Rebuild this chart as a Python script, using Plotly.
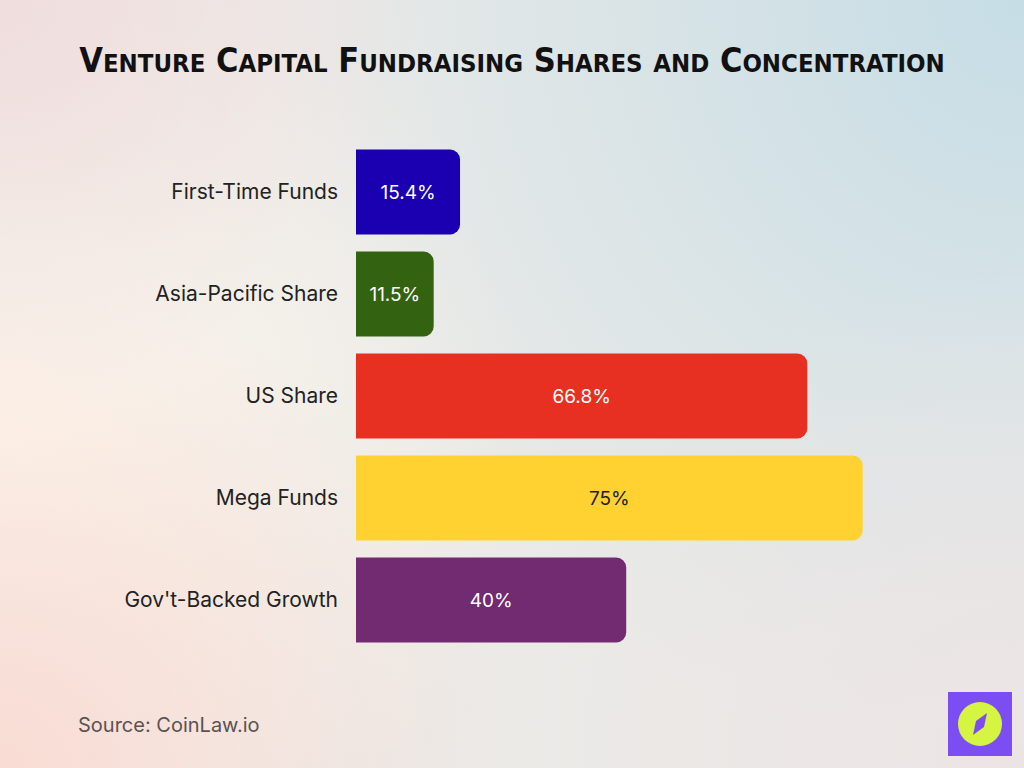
import base64
import plotly.graph_objects as go

categories = ["First-Time Funds", "Asia-Pacific Share", "US Share", "Mega Funds", "Gov't-Backed Growth"]
values = [15.4, 11.5, 66.8, 75, 40]
bar_colors = ["#1a00b0", "#336310", "#e83022", "#ffd232", "#722a70"]
text_colors = ["#ffffff", "#ffffff", "#ffffff", "#222222", "#ffffff"]
labels = [f"{v:g}%" for v in values]

W, H = 1024, 768
ML, MR, MT, MB = 356, 60, 141, 117
PW, PH = W - ML - MR, H - MT - MB


def px(x):
    return (x - ML) / PW


def py(y):
    return 1 - (y - MT) / PH


svg = f"""<svg xmlns='http://www.w3.org/2000/svg' width='{W}' height='{H}' viewBox='0 0 {W} {H}'>
<defs>
<radialGradient id='tr' cx='1024' cy='0' r='760' gradientUnits='userSpaceOnUse'>
<stop offset='0' stop-color='#c6dde6' stop-opacity='1'/><stop offset='1' stop-color='#c6dde6' stop-opacity='0'/></radialGradient>
<radialGradient id='ml' cx='0' cy='430' r='520' gradientUnits='userSpaceOnUse'>
<stop offset='0' stop-color='#fdf8ee' stop-opacity='1'/><stop offset='1' stop-color='#fdf8ee' stop-opacity='0'/></radialGradient>
<radialGradient id='bl' cx='0' cy='768' r='520' gradientUnits='userSpaceOnUse'>
<stop offset='0' stop-color='#f9dcd4' stop-opacity='1'/><stop offset='1' stop-color='#f9dcd4' stop-opacity='0'/></radialGradient>
<radialGradient id='tl' cx='0' cy='0' r='420' gradientUnits='userSpaceOnUse'>
<stop offset='0' stop-color='#f0dddd' stop-opacity='1'/><stop offset='1' stop-color='#f0dddd' stop-opacity='0'/></radialGradient>
<radialGradient id='br' cx='1024' cy='768' r='500' gradientUnits='userSpaceOnUse'>
<stop offset='0' stop-color='#ece4e4' stop-opacity='1'/><stop offset='1' stop-color='#ece4e4' stop-opacity='0'/></radialGradient>
</defs>
<rect width='{W}' height='{H}' fill='#ebeae7'/>
<rect width='{W}' height='{H}' fill='url(#tr)'/>
<rect width='{W}' height='{H}' fill='url(#br)'/>
<rect width='{W}' height='{H}' fill='url(#ml)'/>
<rect width='{W}' height='{H}' fill='url(#bl)'/>
<rect width='{W}' height='{H}' fill='url(#tl)'/>
</svg>"""
bg_uri = "data:image/svg+xml;base64," + base64.b64encode(svg.encode()).decode()

fig = go.Figure(
    go.Bar(
        y=categories,
        x=values,
        orientation="h",
        marker=dict(color=bar_colors, line=dict(width=0)),
        text=labels,
        textposition="inside",
        insidetextanchor="middle",
        constraintext="none",
        textfont=dict(family="Inter", size=19, color=text_colors),
        hoverinfo="skip",
    )
)

SMALL = 25.5


def sc(word):
    return f"{word[0]}<span style='font-size:{SMALL}px'>{word[1:]}</span>"


title_words = ["VENTURE", "CAPITAL", "FUNDRAISING", "SHARES", "AND", "CONCENTRATION"]
title_html = " ".join(
    sc(w) if w != "AND" else f"<span style='font-size:{SMALL}px'>{w}</span>" for w in title_words
)

fig.update_layout(
    width=W,
    height=H,
    margin=dict(l=ML, r=MR, t=MT, b=MB, pad=0),
    paper_bgcolor="rgba(0,0,0,0)",
    plot_bgcolor="rgba(0,0,0,0)",
    bargap=0.167,
    barcornerradius=10,
    showlegend=False,
    xaxis=dict(range=[0, 90], visible=False, fixedrange=True),
    yaxis=dict(
        autorange="reversed",
        showgrid=False,
        zeroline=False,
        showline=False,
        ticks="",
        ticklabelstandoff=17,
        tickfont=dict(family="Inter", size=21, color="#222222"),
        fixedrange=True,
    ),
    title=dict(
        text=title_html,
        x=0.5,
        xanchor="center",
        xref="container",
        y=1 - 60 / H,
        yanchor="middle",
        yref="container",
        font=dict(family="DejaVu Sans Condensed, DejaVu Sans", size=34, color="#111111", weight="bold"),
    ),
    images=[
        dict(
            source=bg_uri,
            xref="paper",
            yref="paper",
            x=px(0),
            y=py(0),
            sizex=W / PW,
            sizey=H / PH,
            xanchor="left",
            yanchor="top",
            sizing="stretch",
            layer="below",
        )
    ],
    annotations=[
        dict(
            text="Source: CoinLaw.io",
            xref="paper",
            yref="paper",
            x=px(76),
            y=py(725),
            xanchor="left",
            yanchor="middle",
            showarrow=False,
            font=dict(family="Inter", size=20, color="#5a5252"),
        )
    ],
    shapes=[
        dict(type="rect", xref="paper", yref="paper", x0=px(948), x1=px(1012), y0=py(692), y1=py(756),
             fillcolor="#7b4df2", line=dict(width=0)),
        dict(type="circle", xref="paper", yref="paper", x0=px(958), x1=px(1002), y0=py(702), y1=py(746),
             fillcolor="#d5f542", line=dict(width=0)),
        dict(type="path", xref="paper", yref="paper",
             path=f"M {px(987)},{py(713)} L {px(984)},{py(727)} L {px(973)},{py(735)} L {px(976)},{py(721)} Z",
             fillcolor="#7b4df2", line=dict(width=0)),
    ],
)

fig.write_html("out.html")
